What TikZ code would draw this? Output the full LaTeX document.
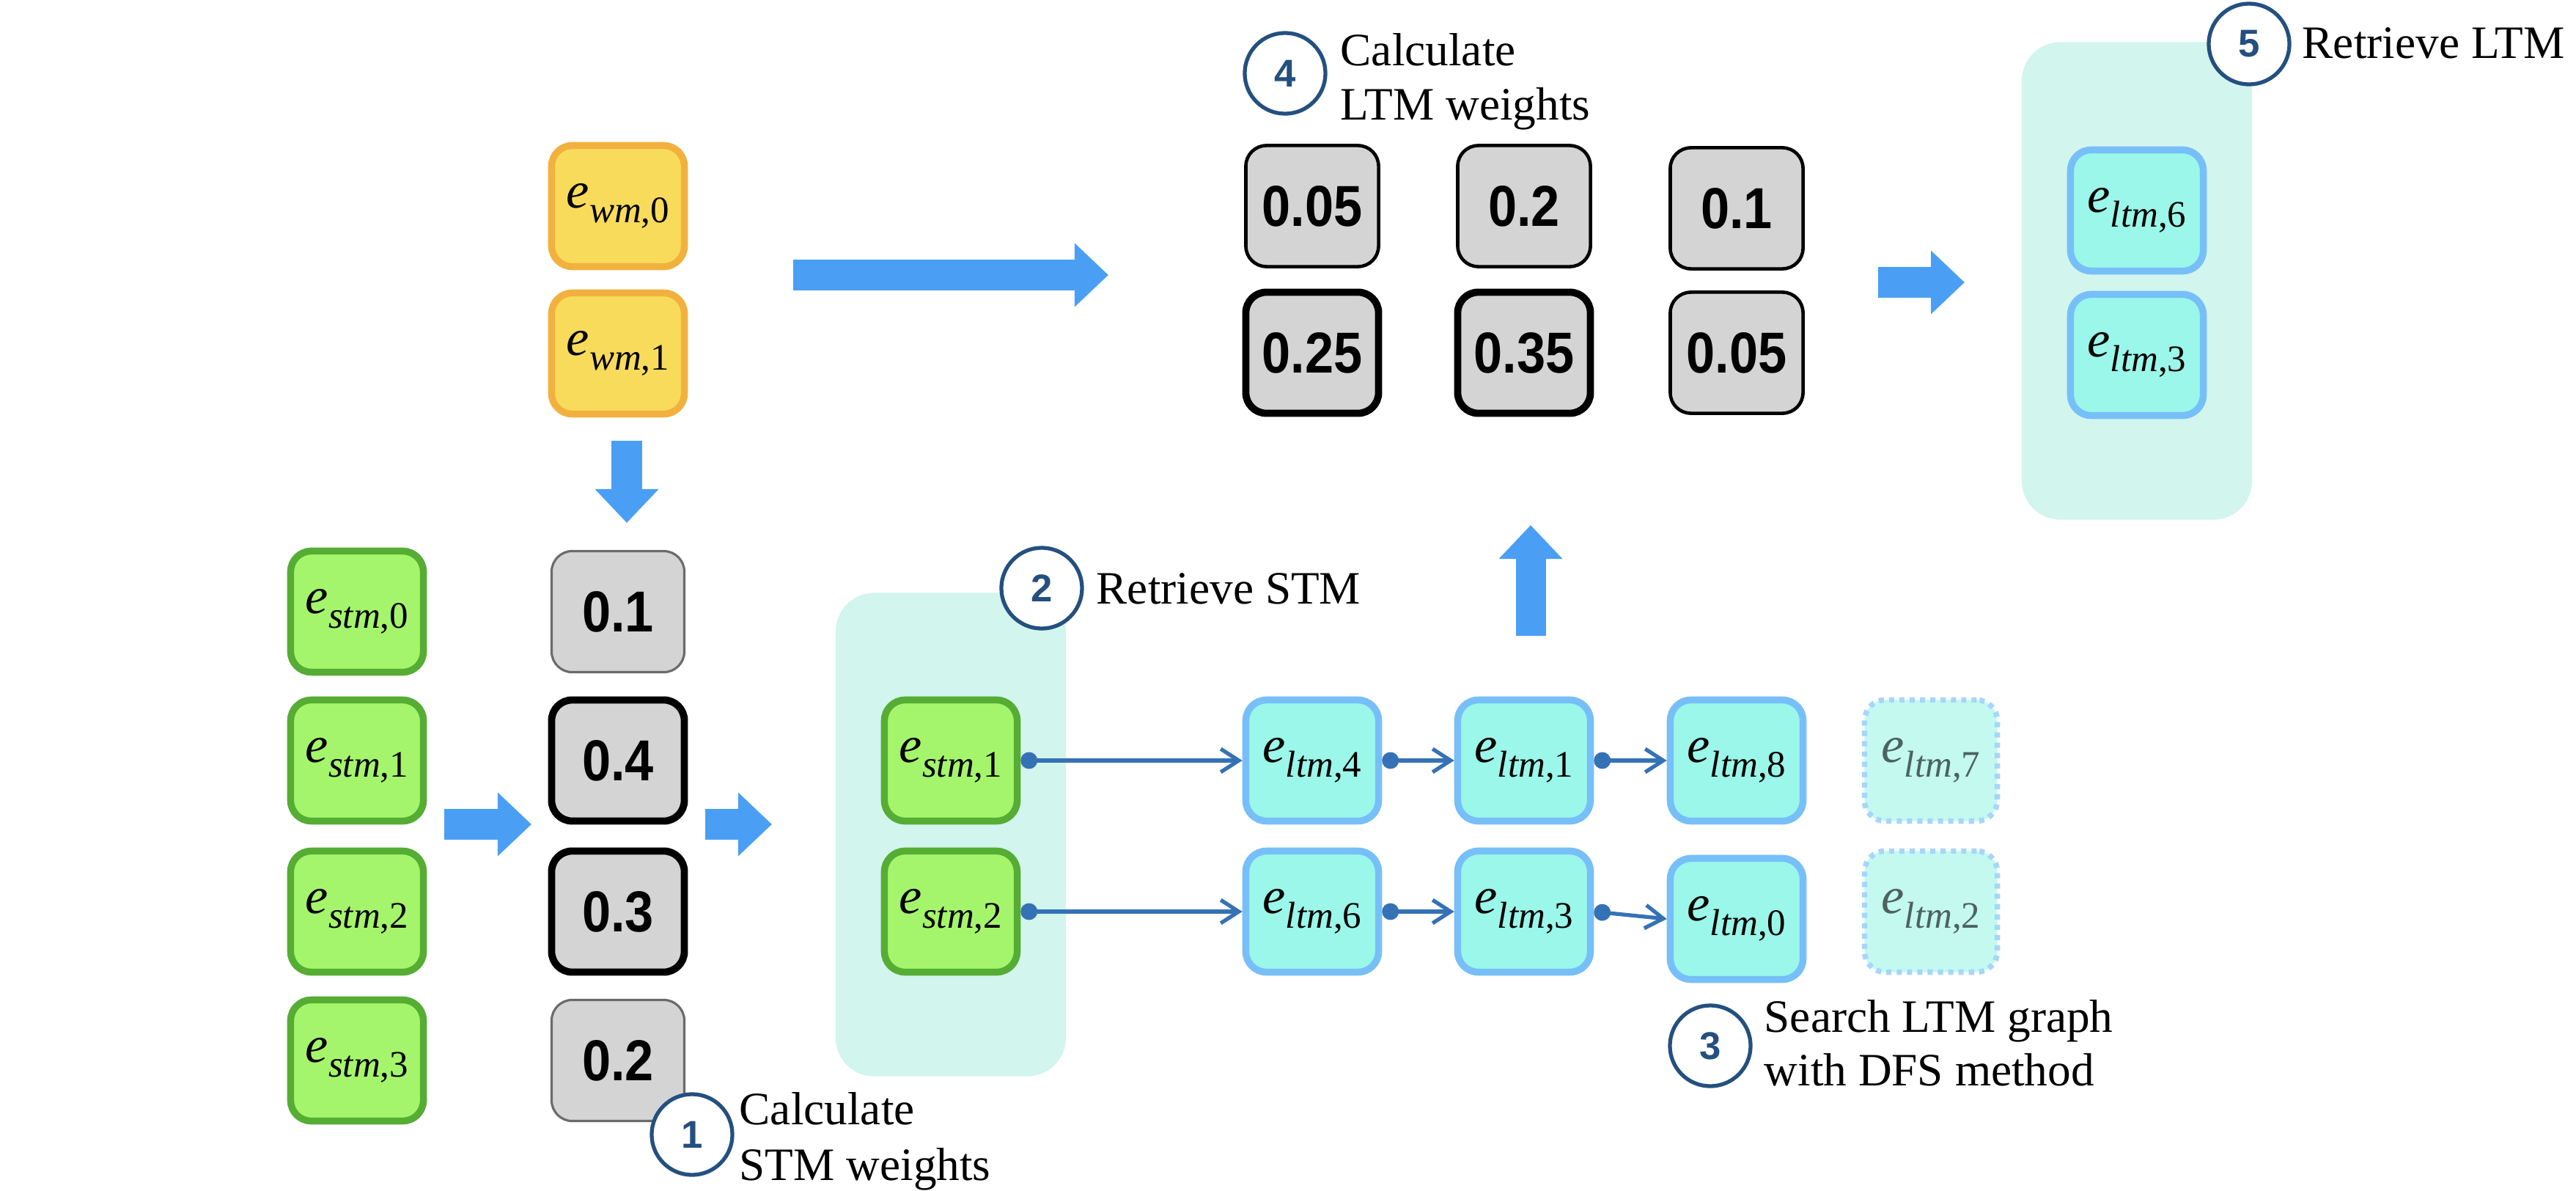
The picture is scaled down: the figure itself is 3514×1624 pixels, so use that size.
\documentclass[tikz,border=0pt]{standalone}
\usepackage{fontspec}
\setmainfont{Liberation Serif}
\setsansfont{Liberation Sans}
\usetikzlibrary{arrows.meta}
\definecolor{wmfill}{HTML}{F9DB5C}
\definecolor{wmdraw}{HTML}{F2B13E}
\definecolor{stmfill}{HTML}{A5F56C}
\definecolor{stmdraw}{HTML}{55AD33}
\definecolor{ltmfill}{HTML}{9AF7E9}
\definecolor{ltmdraw}{HTML}{77BFF8}
\definecolor{ghostfill}{HTML}{C3F9EF}
\definecolor{ghostdraw}{HTML}{A6D6FA}
\definecolor{ghosttext}{HTML}{4D625F}
\definecolor{greyfill}{HTML}{D4D4D4}
\definecolor{greyline}{HTML}{6B6B6B}
\definecolor{groupfill}{HTML}{D2F5EE}
\definecolor{blockblue}{HTML}{4A9FF5}
\definecolor{linkblue}{HTML}{3572B5}
\definecolor{stepblue}{HTML}{24507F}
\newcommand\emb[2]{{\fontsize{20}{22}\selectfont\textit{e}}\raisebox{-5.6pt}{\fontsize{14.5}{16}\selectfont\textit{#1},#2}}
\newcommand\wt[1]{\scalebox{1}[1.12]{#1}}
\begin{document}
\begin{tikzpicture}[x=0.01cm,y=-0.01cm,
  box/.style={rounded corners=8pt, minimum width=1.81cm, minimum height=1.65cm, inner sep=0pt, line width=2.7pt, font=\fontsize{18}{20}\selectfont},
  wmbox/.style={box, fill=wmfill, draw=wmdraw},
  stmbox/.style={box, fill=stmfill, draw=stmdraw},
  ltmbox/.style={box, fill=ltmfill, draw=ltmdraw},
  ghostbox/.style={box, fill=ghostfill, draw=ghostdraw, dash pattern=on 2pt off 2pt, line width=2.1pt, text=ghosttext},
  wbox/.style={box, fill=greyfill, draw=black, font=\fontsize{20}{22}\selectfont\sffamily\bfseries},
  wthin/.style={wbox, draw=greyline, line width=0.9pt},
  wmid/.style={wbox, line width=1.3pt},
  wthick/.style={wbox, line width=2.8pt},
  group/.style={fill=groupfill, rounded corners=15pt, inner sep=0pt, minimum width=3.14cm},
  bigarrow/.style={draw=blockblue, line width=0.41cm, -{Triangle[length=0.46cm,width=0.84cm]}},
  link/.style={draw=linkblue, line width=1.5pt, {Circle[length=6.5pt]}-{Straight Barb[length=7pt,width=9pt]}},
  stepnum/.style={circle, draw=stepblue, line width=1.5pt, fill=white, minimum size=1.1cm, inner sep=0pt, text=stepblue, font=\fontsize{15}{16}\selectfont\sffamily\bfseries},
  steptext/.style={anchor=base west, inner sep=0pt, font=\rmfamily\fontsize{18}{20}\selectfont}
]
\useasboundingbox (0,0) rectangle (3514,1624);

% group backgrounds
\node[group, minimum height=6.59cm] (gstm) at (1297,1138) {};
\node[group, minimum height=6.51cm] (gltm) at (2915,383) {};

% working memory
\node[wmbox] (wm0) at (843,281) {\emb{wm}{0}};
\node[wmbox] (wm1) at (843,482) {\emb{wm}{1}};

% STM column
\node[stmbox] (s0) at (487,834) {\emb{stm}{0}};
\node[stmbox] (s1) at (487,1037) {\emb{stm}{1}};
\node[stmbox] (s2) at (487,1243) {\emb{stm}{2}};
\node[stmbox] (s3) at (487,1446) {\emb{stm}{3}};

% STM weights
\node[wthin] (w0) at (843,834) {\wt{0.1}};
\node[wthick] (w1) at (843,1037) {\wt{0.4}};
\node[wthick] (w2) at (843,1243) {\wt{0.3}};
\node[wthin] (w3) at (843,1446) {\wt{0.2}};

% retrieved STM
\node[stmbox] (r1) at (1297,1037) {\emb{stm}{1}};
\node[stmbox] (r2) at (1297,1243) {\emb{stm}{2}};

% LTM graph
\node[ltmbox] (l4) at (1790,1037) {\emb{ltm}{4}};
\node[ltmbox] (l1) at (2079,1037) {\emb{ltm}{1}};
\node[ltmbox] (l8) at (2369,1037) {\emb{ltm}{8}};
\node[ghostbox] (l7) at (2634,1037) {\emb{ltm}{7}};
\node[ltmbox] (l6) at (1790,1243) {\emb{ltm}{6}};
\node[ltmbox] (l3) at (2079,1243) {\emb{ltm}{3}};
\node[ltmbox] (l0) at (2369,1253) {\emb{ltm}{0}};
\node[ghostbox] (l2) at (2634,1243) {\emb{ltm}{2}};

% LTM weights
\node[wmid] (v1) at (1790,281) {\wt{0.05}};
\node[wmid] (v2) at (2079,281) {\wt{0.2}};
\node[wmid] (v3) at (2369,284) {\wt{0.1}};
\node[wthick] (v4) at (1790,481) {\wt{0.25}};
\node[wthick] (v5) at (2079,481) {\wt{0.35}};
\node[wmid] (v6) at (2369,481) {\wt{0.05}};

% retrieved LTM
\node[ltmbox] (q6) at (2915,287) {\emb{ltm}{6}};
\node[ltmbox] (q3) at (2915,484) {\emb{ltm}{3}};

% links
\draw[link] (r1.east) -- (l4.west);
\draw[link] (l4.east) -- (l1.west);
\draw[link] (l1.east) -- (l8.west);
\draw[link] (r2.east) -- (l6.west);
\draw[link] (l6.east) -- (l3.west);
\draw[link] (l3.east) -- (l0.west);

% block arrows
\coordinate (a1s) at (606,1124);  \coordinate (a1e) at (725,1124);
\coordinate (a2s) at (962,1124);  \coordinate (a2e) at (1053,1124);
\coordinate (a3s) at (855,601);   \coordinate (a3e) at (855,713);
\coordinate (a4s) at (1082,375);  \coordinate (a4e) at (1512,375);
\coordinate (a5s) at (2562,385);  \coordinate (a5e) at (2680,385);
\coordinate (a6s) at (2088,867);  \coordinate (a6e) at (2088,716);
\draw[bigarrow] (a1s) -- (a1e);
\draw[bigarrow] (a2s) -- (a2e);
\draw[bigarrow] (a3s) -- (a3e);
\draw[bigarrow] (a4s) -- (a4e);
\draw[bigarrow] (a5s) -- (a5e);
\draw[bigarrow] (a6s) -- (a6e);

% steps
\node[stepnum] (c1) at (944,1547) {1};
\node[steptext] (t1a) at (1008,1533) {Calculate};
\node[steptext] (t1b) at (1008,1609) {STM weights};

\node[stepnum] (c2) at (1421,802) {2};
\node[steptext] (t2) at (1495,823) {Retrieve STM};

\node[stepnum] (c3) at (2333,1426) {3};
\node[steptext] (t3a) at (2406,1407) {Search LTM graph};
\node[steptext] (t3b) at (2406,1480) {with DFS method};

\node[stepnum] (c4) at (1753,100) {4};
\node[steptext] (t4a) at (1828,89) {Calculate};
\node[steptext] (t4b) at (1828,163) {LTM weights};

\node[stepnum] (c5) at (3068,60) {5};
\node[steptext] (t5) at (3140,80) {Retrieve LTM};
\end{tikzpicture}
\end{document}
